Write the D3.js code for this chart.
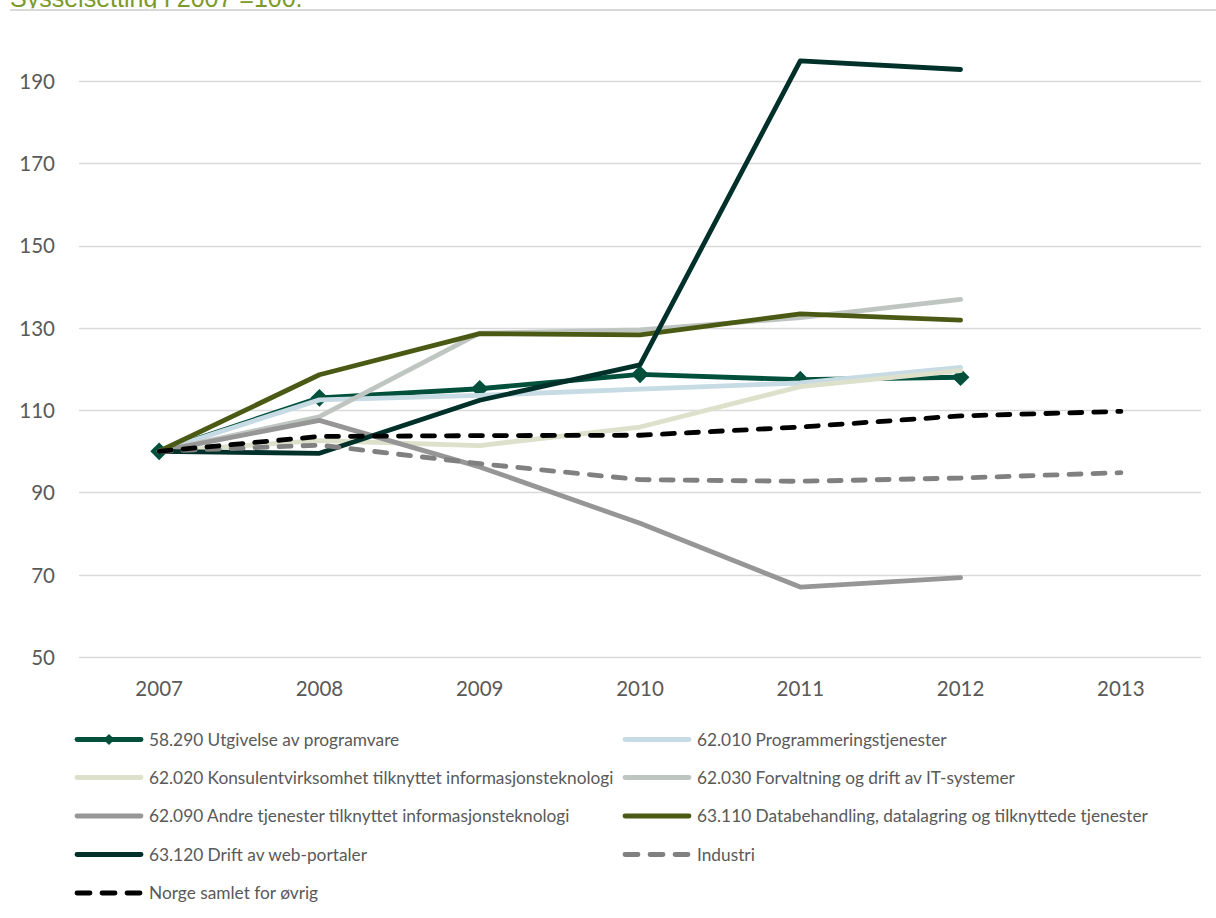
<!DOCTYPE html>
<html>
<head>
<meta charset="utf-8">
<script src="https://cdn.jsdelivr.net/npm/d3@7"></script>
<style>
  html, body { margin: 0; padding: 0; background: #fff; }
  svg { display: block; }
</style>
</head>
<body>
<svg id="chart" width="1216" height="918"></svg>
<script>
const years = ["2007", "2008", "2009", "2010", "2011", "2012", "2013"];
const yTicks = [50, 70, 90, 110, 130, 150, 170, 190];
const titleText = "Sysselsetting i 2007 =100.";

const s58290 = [100, 113.0, 115.2, 118.7, 117.4, 118.0, null];
const s62010 = [100, 112.5, 113.6, 115.1, 116.6, 120.4, null];
const s62020 = [100, 102.6, 101.4, 105.9, 115.7, 119.6, null];
const s62030 = [100, 108.4, 128.7, 129.5, 132.5, 136.9, null];
const s62090 = [100, 107.5, 96.2, 82.5, 67.0, 69.3, null];
const s63110 = [100, 118.6, 128.6, 128.3, 133.4, 131.9, null];
const s63120 = [100, 99.5, 112.4, 121.0, 194.9, 192.8, null];
const sIndustri = [100, 101.5, 97.0, 93.1, 92.7, 93.5, 94.8];
const sNorge = [100, 103.6, 103.8, 103.9, 105.9, 108.6, 109.7];

const seriesNames = [
  "58.290 Utgivelse av programvare",
  "62.010 Programmeringstjenester",
  "62.020 Konsulentvirksomhet tilknyttet informasjonsteknologi",
  "62.030 Forvaltning og drift av IT-systemer",
  "62.090 Andre tjenester tilknyttet informasjonsteknologi",
  "63.110 Databehandling, datalagring og tilknyttede tjenester",
  "63.120 Drift av web-portaler",
  "Industri",
  "Norge samlet for øvrig"
];
const seriesValues = [s58290, s62010, s62020, s62030, s62090, s63110, s63120, sIndustri, sNorge];
const seriesColors = ["#00503c", "#c6dbe4", "#dde1cb", "#bfc6c1", "#969696", "#4a5a14", "#00302a", "#808080", "#000000"];
const seriesDashed = [false, false, false, false, false, false, false, true, true];
const seriesMarker = [true, false, false, false, false, false, false, false, false];

const svg = d3.select("#chart");
const margin = { left: 79, right: 1201, top: 81, bottom: 657 };

const x = d3.scaleBand().domain(years).range([margin.left, margin.right]);
const y = d3.scaleLinear().domain([50, 190]).range([margin.bottom, margin.top]);

// title (clipped at the top of the picture, as in the source)
const defs = svg.append("defs");
defs.append("clipPath").attr("id", "titleClip")
  .append("rect").attr("x", 0).attr("y", 0).attr("width", 1216).attr("height", 8.2);
svg.append("text")
  .attr("clip-path", "url(#titleClip)")
  .attr("x", 10).attr("y", 7)
  .attr("font-family", "Liberation Sans, Arial, sans-serif")
  .attr("font-size", 25)
  .attr("fill", "#7b9a2a")
  .text(titleText);
svg.append("line")
  .attr("x1", 10).attr("x2", 1216).attr("y1", 10).attr("y2", 10)
  .attr("stroke", "#d9d9d9").attr("stroke-width", 2);

// grid
svg.append("g").selectAll("line").data(yTicks).join("line")
  .attr("x1", margin.left).attr("x2", margin.right)
  .attr("y1", d => Math.round(y(d)) + 0.5).attr("y2", d => Math.round(y(d)) + 0.5)
  .attr("stroke", "#d9d9d9").attr("stroke-width", 1.5);

// y axis labels
const yAxis = d3.axisLeft(y).tickValues(yTicks).tickSize(0).tickPadding(0);
const gy = svg.append("g").attr("transform", `translate(55,0)`).call(yAxis);
gy.select(".domain").remove();
gy.selectAll("text")
  .attr("font-family", "Lato, sans-serif").attr("font-size", 20.5)
  .attr("fill", "#595959").attr("dy", "0.36em");

// x axis labels
const xAxis = d3.axisBottom(x).tickSize(0).tickPadding(0);
const gx = svg.append("g").attr("transform", `translate(0,681)`).call(xAxis);
gx.select(".domain").remove();
gx.selectAll("text")
  .attr("font-family", "Lato, sans-serif").attr("font-size", 20.5)
  .attr("fill", "#595959").attr("dy", "0.71em");

// lines
const line = d3.line()
  .defined(d => d.v !== null)
  .x(d => x(d.year) + x.bandwidth() / 2)
  .y(d => y(d.v));

const diamond = d3.symbol().type(d3.symbolDiamond2).size(200);

seriesValues.forEach((vals, i) => {
  const pts = vals.map((v, j) => ({ year: years[j], v }));
  svg.append("path")
    .datum(pts)
    .attr("d", line)
    .attr("fill", "none")
    .attr("stroke", seriesColors[i])
    .attr("stroke-width", 4.8)
    .attr("stroke-linejoin", "round")
    .attr("stroke-linecap", "round")
    .attr("stroke-dasharray", seriesDashed[i] ? "12,12" : null);
  if (seriesMarker[i]) {
    svg.append("g").selectAll("path").data(pts.filter(d => d.v !== null)).join("path")
      .attr("d", diamond)
      .attr("transform", d => `translate(${x(d.year) + x.bandwidth() / 2},${y(d.v)})`)
      .attr("fill", seriesColors[i]);
  }
});

// legend
const legLineX1 = [77, 625];
const legLineX2 = [141, 689];
const legTextX = [149, 697];
const legRowY = [739.5, 777.5, 816, 854.5, 893];
const legend = svg.append("g");
seriesNames.forEach((name, i) => {
  const col = i % 2, row = Math.floor(i / 2);
  const g = legend.append("g").attr("transform", `translate(0,${legRowY[row]})`);
  const x1 = legLineX1[col], x2 = legLineX2[col];
  g.append("line")
    .attr("x1", x1).attr("x2", x2).attr("y1", 0).attr("y2", 0)
    .attr("stroke", seriesColors[i]).attr("stroke-width", 4.8)
    .attr("stroke-linecap", "round")
    .attr("stroke-dasharray", seriesDashed[i] ? "13,12" : null);
  if (seriesMarker[i]) {
    g.append("path").attr("d", d3.symbol().type(d3.symbolDiamond2).size(80))
      .attr("transform", `translate(${(x1 + x2) / 2},0)`)
      .attr("fill", seriesColors[i]);
  }
  g.append("text")
    .attr("x", legTextX[col]).attr("y", 0).attr("dy", "0.35em")
    .attr("font-family", "Lato, sans-serif").attr("font-size", 17.3)
    .attr("fill", "#595959")
    .text(name);
});
</script>
</body>
</html>
